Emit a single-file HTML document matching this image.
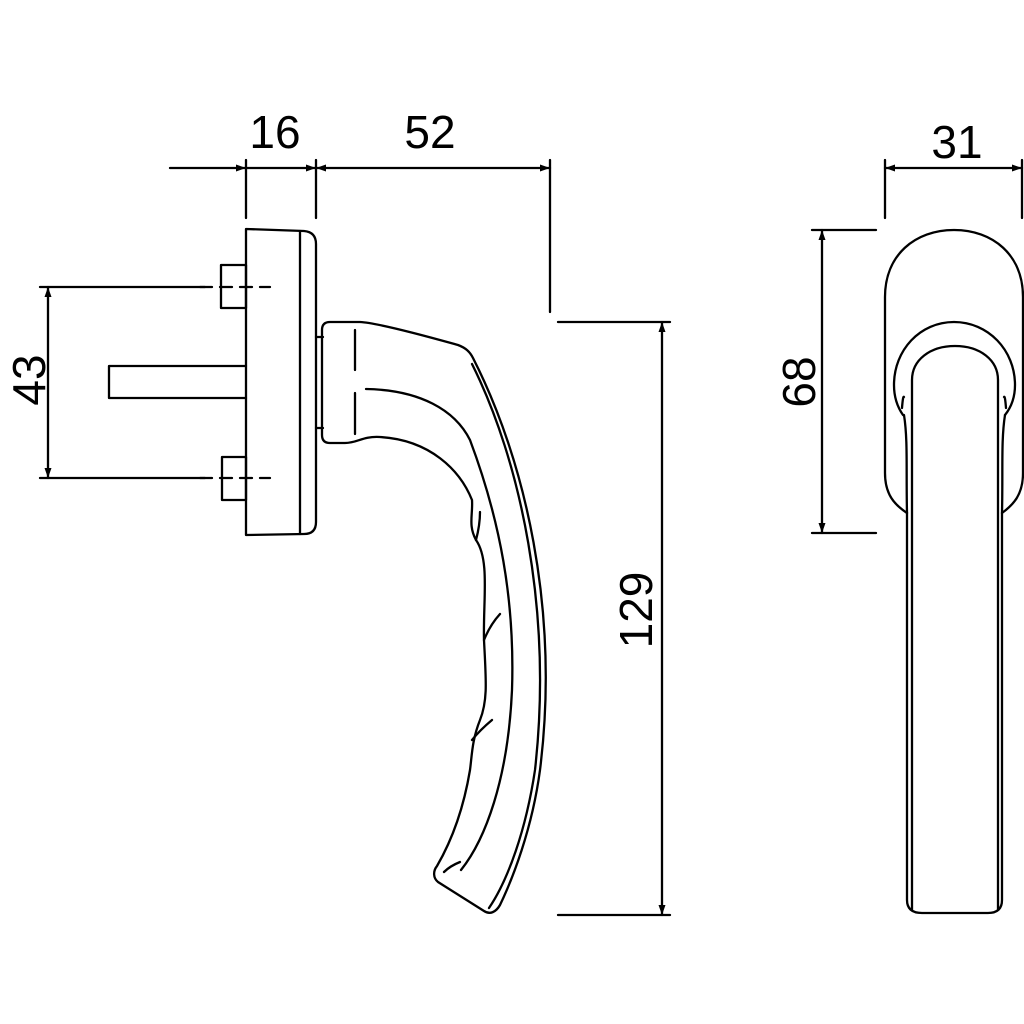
<!DOCTYPE html>
<html><head><style>body{margin:0;background:#fff}svg{display:block}text{font-family:"Liberation Sans",sans-serif;font-size:46px;fill:#000}</style></head>
<body>
<svg width="1024" height="1024" viewBox="0 0 1024 1024" xmlns="http://www.w3.org/2000/svg">
<defs><marker id="a" viewBox="0 0 10 10" refX="10" refY="5" markerWidth="18" markerHeight="10" markerUnits="userSpaceOnUse" orient="auto-start-reverse"><path d="M0,1.5 L10,5 L0,8.5 Z" fill="#000"/></marker></defs>
<g fill="none" stroke="#000" stroke-width="2.3" stroke-linecap="round" stroke-linejoin="round">
<line x1="246" y1="160" x2="246" y2="218"/><line x1="316" y1="160" x2="316" y2="218"/><line x1="550" y1="160" x2="550" y2="312"/>
<line x1="170" y1="168" x2="246" y2="168" marker-end="url(#a)"/>
<line x1="246" y1="168" x2="316" y2="168" marker-end="url(#a)"/>
<line x1="316" y1="168" x2="550" y2="168" marker-start="url(#a)" marker-end="url(#a)"/>
<line x1="40" y1="287" x2="205" y2="287"/><line x1="40" y1="478" x2="205" y2="478"/>
<line x1="48" y1="287" x2="48" y2="478" marker-start="url(#a)" marker-end="url(#a)"/>
<line x1="558" y1="322" x2="670" y2="322"/><line x1="558" y1="915" x2="670" y2="915"/>
<line x1="662" y1="322" x2="662" y2="915" marker-start="url(#a)" marker-end="url(#a)"/>
<line x1="812" y1="230" x2="876" y2="230"/><line x1="812" y1="533" x2="876" y2="533"/>
<line x1="822" y1="230" x2="822" y2="533" marker-start="url(#a)" marker-end="url(#a)"/>
<line x1="885" y1="160" x2="885" y2="218"/><line x1="1022" y1="160" x2="1022" y2="218"/>
<line x1="885" y1="168" x2="1022" y2="168" marker-start="url(#a)" marker-end="url(#a)"/>
<path d="M246,229 L304,231 Q316,232 316,244 L316,522 Q316,534 304,534 L246,535 Z"/>
<line x1="300" y1="231" x2="300" y2="534"/>
<rect x="221" y="265" width="25" height="43"/><rect x="222" y="457" width="24" height="43"/>
<path d="M200,287 H270 M200,478 H270" stroke-dasharray="12,8"/>
<path d="M246,366 H109 V398 H246"/>
<path d="M316,337 H323 M316,428 H323"/>
<path d="M330,322 L360,322 C380,323 440,340 458,345 C466,348 470,352 473,358 C525,460 560,610 540,770 C532,830 512,880 500,905 C496,912 490,915 484,911 L438,882 C433,878 433,871 437,866 C455,835 465,800 470,770 C472,755 472,740 480,720 C488,700 486,680 484,640 C483,600 490,560 476,540 C468,525 473,515 472,500 C460,470 430,440 380,437 C362,436 358,443 345,443 L330,443 Q322,443 322,435 L322,330 Q322,322 330,322 Z"/>
<path d="M366,389 C420,390 455,410 470,440 C500,520 515,600 512,690 C508,780 485,840 461,870"/>
<path d="M472,364 C520,460 553,610 535,770 C526,830 508,880 489,908"/>
<path d="M355,330 V370 M355,393 V434"/>
<path d="M476,540 Q480,525 480,512 M484,640 Q490,625 500,614 M472,740 Q480,730 492,720 M444,872 Q450,866 460,862"/>
<path d="M907,513 C895,505 885,495 885,473 L885,297 C885,255 915,230 954,230 C993,230 1023,255 1023,297 L1023,473 C1023,495 1013,505 1002,513"/>
<path d="M903,415 C896,405 894,395 894,385 C894,350 920,322 954,322 C988,322 1015,350 1015,385 C1015,395 1013,405 1005,415"/>
<path d="M904,415 C908,440 906,470 907,513 L907,900 Q907,913 922,913 L988,913 Q1002,913 1002,900 L1002,513 C1003,470 1001,440 1005,415"/>
<path d="M912,910 L912,380 C912,360 930,346 955,346 C980,346 998,360 998,380 L998,910"/>
<path d="M902,408 Q903,395 904,397 M1006,408 Q1005,395 1004,397"/>
</g>
<text x="275" y="148" text-anchor="middle">16</text>
<text x="430" y="148" text-anchor="middle">52</text>
<text x="957" y="158" text-anchor="middle">31</text>
<text transform="translate(45,380) rotate(-90)" text-anchor="middle">43</text>
<text transform="translate(652,610) rotate(-90)" text-anchor="middle">129</text>
<text transform="translate(815,382) rotate(-90)" text-anchor="middle">68</text>
</svg>
</body></html>
